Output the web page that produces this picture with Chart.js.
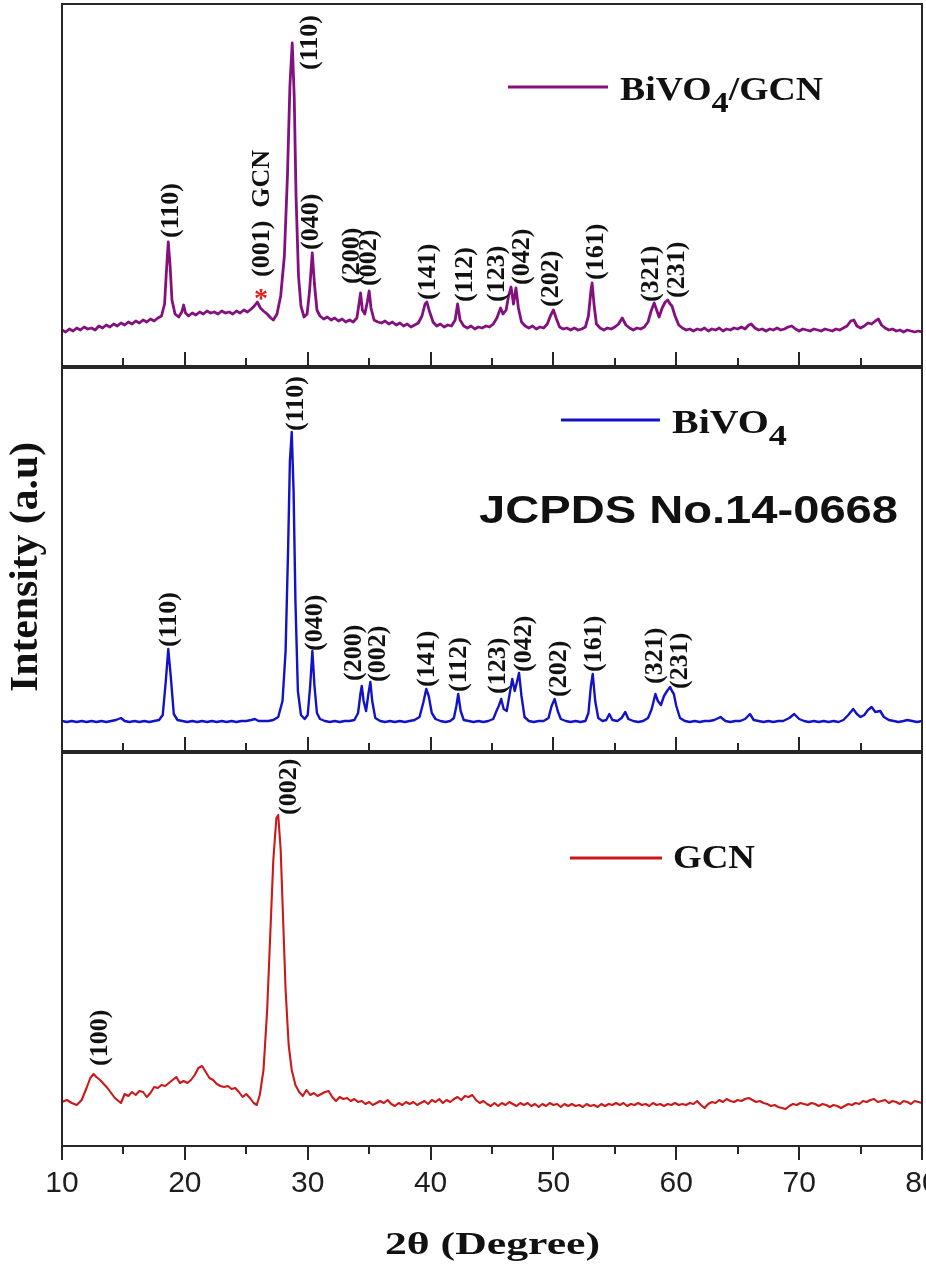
<!DOCTYPE html>
<html>
<head>
<meta charset="utf-8">
<title>XRD patterns - GCN, BiVO4, BiVO4/GCN</title>
<script src="https://cdn.jsdelivr.net/npm/chart.js@4.4.1/dist/chart.umd.min.js"></script>
<style>
  html, body { margin: 0; padding: 0; background: #fff; }
  #wrap { position: relative; width: 926px; height: 1265px; overflow: hidden; background: #fff; }
  #wrap canvas { position: absolute; left: 0; top: 0; }
</style>
</head>
<body>
<div id="wrap">
  <canvas id="compositeChart" width="926" height="1265"></canvas>
  <canvas id="bivo4Chart" width="926" height="1265"></canvas>
  <canvas id="gcnChart" width="926" height="1265"></canvas>
</div>
<script>
// ---- data (2theta in degrees, intensity in a.u.) ----

const xMajorTicks = [10, 20, 30, 40, 50, 60, 70, 80];
const xMinorTicks = [15, 25, 35, 45, 55, 65, 75];

// BiVO4/GCN pattern
const compositePattern = [
  [10.0,36],[10.3,34],[10.6,37],[10.9,35],[11.2,38],[11.5,36],[11.8,39],[12.1,37],[12.4,38],[12.7,36],
  [13.0,40],[13.3,38],[13.6,41],[13.9,39],[14.2,42],[14.5,40],[14.8,43],[15.1,41],[15.4,44],[15.7,42],
  [16.0,45],[16.3,43],[16.6,46],[16.9,44],[17.2,47],[17.5,45],[17.8,48],[18.1,50],[18.35,62],[18.5,95],
  [18.65,124],[18.8,100],[18.95,66],[19.2,52],[19.5,49],[19.75,54],[19.9,61],[20.05,53],[20.3,50],[20.6,53],
  [20.9,51],[21.2,54],[21.5,52],[21.8,55],[22.1,53],[22.4,54],[22.7,52],[23.0,55],[23.3,53],[23.6,54],
  [23.9,52],[24.2,55],[24.5,53],[24.8,56],[25.1,54],[25.4,57],[25.65,60],[25.9,64],[26.15,58],[26.4,55],
  [26.7,52],[27.0,48],[27.2,46],[27.5,52],[27.8,70],[28.1,110],[28.35,190],[28.55,280],[28.74,323],[28.9,270],
  [29.05,170],[29.25,90],[29.45,60],[29.7,49],[29.95,52],[30.15,75],[30.37,113],[30.55,82],[30.75,56],[31.0,50],
  [31.3,47],[31.6,49],[31.9,46],[32.2,48],[32.5,45],[32.8,47],[33.1,44],[33.4,46],[33.7,44],[34.0,48],
  [34.15,60],[34.3,73],[34.45,56],[34.65,52],[34.85,64],[35.0,75],[35.15,58],[35.4,46],[35.7,44],[36.0,43],
  [36.3,45],[36.6,42],[36.9,44],[37.2,41],[37.5,43],[37.8,40],[38.1,42],[38.4,39],[38.7,41],[39.0,43],
  [39.3,50],[39.55,62],[39.7,64],[39.9,55],[40.2,44],[40.5,40],[40.8,42],[41.1,39],[41.4,41],[41.7,40],
  [42.0,46],[42.2,62],[42.4,46],[42.7,40],[43.0,38],[43.3,40],[43.6,37],[43.9,39],[44.2,38],[44.5,40],
  [44.8,39],[45.1,42],[45.4,48],[45.7,58],[45.9,52],[46.15,56],[46.35,70],[46.55,79],[46.75,62],[46.95,78],
  [47.15,58],[47.4,44],[47.7,40],[48.0,38],[48.3,40],[48.6,37],[48.9,39],[49.2,38],[49.5,42],[49.75,50],
  [50.0,56],[50.25,47],[50.5,39],[50.8,37],[51.1,38],[51.4,36],[51.7,38],[52.0,36],[52.3,37],[52.6,39],
  [52.85,50],[53.05,75],[53.15,83],[53.3,62],[53.5,42],[53.8,38],[54.1,36],[54.4,38],[54.7,37],[55.0,39],
  [55.3,42],[55.6,48],[55.9,41],[56.2,38],[56.5,36],[56.8,38],[57.1,37],[57.4,39],[57.7,44],[57.95,55],
  [58.2,63],[58.4,56],[58.6,49],[58.85,58],[59.1,64],[59.3,66],[59.5,62],[59.65,60],[59.9,50],[60.2,41],
  [60.5,38],[60.8,36],[61.1,37],[61.4,35],[61.7,37],[62.0,36],[62.3,38],[62.6,35],[62.9,37],[63.2,36],
  [63.5,38],[63.8,35],[64.1,37],[64.4,36],[64.7,38],[65.0,37],[65.3,39],[65.6,37],[65.9,41],[66.1,42],
  [66.4,38],[66.7,36],[67.0,37],[67.3,35],[67.6,37],[67.9,36],[68.2,38],[68.5,36],[68.8,37],[69.1,39],
  [69.4,40],[69.7,37],[70.0,35],[70.3,37],[70.6,36],[70.9,35],[71.2,37],[71.5,36],[71.8,35],[72.1,37],
  [72.4,36],[72.7,35],[73.0,37],[73.3,36],[73.6,38],[73.9,40],[74.2,45],[74.45,46],[74.7,40],[75.0,38],
  [75.3,40],[75.6,43],[75.9,42],[76.2,45],[76.45,47],[76.7,41],[77.0,38],[77.3,36],[77.6,37],[77.9,35],
  [78.2,36],[78.5,34],[78.8,36],[79.1,35],[79.4,34],[79.7,35],[80.0,34]
];

// BiVO4 pattern
const bivo4Pattern = [
  [10.0,30],[10.4,29],[10.8,30],[11.2,29],[11.6,30],[12.0,29],[12.4,30],[12.8,29],[13.2,30],[13.6,29],
  [14.0,30],[14.4,31],[14.8,33],[15.1,30],[15.5,29],[15.9,30],[16.3,29],[16.7,30],[17.1,29],[17.5,30],
  [17.9,31],[18.2,36],[18.45,70],[18.65,102],[18.85,75],[19.1,37],[19.4,31],[19.8,30],[20.2,29],[20.6,30],
  [21.0,29],[21.4,30],[21.8,29],[22.2,30],[22.6,29],[23.0,30],[23.4,29],[23.8,30],[24.2,29],[24.6,30],
  [25.0,30],[25.4,31],[25.7,32],[26.0,30],[26.4,30],[26.8,30],[27.2,31],[27.6,34],[27.95,50],[28.2,100],
  [28.4,200],[28.55,290],[28.7,319],[28.85,260],[29.0,150],[29.2,60],[29.45,36],[29.75,32],[30.0,36],[30.2,65],
  [30.38,100],[30.55,65],[30.75,38],[31.0,32],[31.4,30],[31.8,29],[32.2,30],[32.6,29],[33.0,30],[33.4,30],
  [33.8,31],[34.1,38],[34.3,58],[34.4,65],[34.55,50],[34.75,40],[34.95,58],[35.1,69],[35.25,50],[35.5,33],
  [35.9,30],[36.3,29],[36.7,30],[37.1,29],[37.5,30],[37.9,29],[38.3,30],[38.7,31],[39.1,34],[39.4,48],
  [39.65,62],[39.85,55],[40.1,38],[40.4,32],[40.8,30],[41.2,29],[41.6,30],[41.9,33],[42.1,45],[42.25,57],
  [42.45,40],[42.7,31],[43.1,30],[43.5,29],[43.9,30],[44.3,29],[44.7,30],[45.1,32],[45.4,41],[45.55,45],
  [45.75,52],[45.95,42],[46.2,40],[46.45,58],[46.65,72],[46.85,60],[47.05,70],[47.2,78],[47.4,55],[47.65,34],
  [48.0,30],[48.4,29],[48.8,30],[49.2,30],[49.6,33],[49.85,45],[50.1,52],[50.35,40],[50.6,32],[51.0,30],
  [51.4,29],[51.8,30],[52.2,29],[52.6,30],[52.85,38],[53.05,65],[53.2,77],[53.4,50],[53.65,33],[54.0,30],
  [54.3,31],[54.55,37],[54.8,31],[55.2,30],[55.55,33],[55.85,39],[56.1,32],[56.5,30],[56.9,29],[57.3,30],
  [57.7,33],[58.0,42],[58.3,57],[58.5,50],[58.75,46],[59.0,55],[59.25,60],[59.5,64],[59.65,60],[59.8,57],
  [60.0,45],[60.3,33],[60.7,30],[61.1,29],[61.5,30],[61.9,29],[62.3,30],[62.7,30],[63.1,31],[63.6,34],
  [64.0,30],[64.4,29],[64.8,30],[65.2,30],[65.6,32],[66.0,37],[66.3,31],[66.7,30],[67.1,29],[67.5,30],
  [67.9,29],[68.3,30],[68.7,30],[69.2,33],[69.6,37],[70.0,32],[70.4,30],[70.8,29],[71.2,30],[71.6,29],
  [72.0,30],[72.4,29],[72.8,30],[73.2,29],[73.6,31],[74.0,36],[74.4,42],[74.7,37],[75.0,34],[75.3,36],
  [75.6,41],[75.9,44],[76.2,39],[76.6,40],[76.9,34],[77.3,31],[77.7,30],[78.1,29],[78.5,30],[78.8,31],
  [79.2,30],[79.6,29],[80.0,30]
];

// GCN pattern
const gcnPattern = [
  [10.0,44],[10.4,46],[10.8,43],[11.2,41],[11.6,46],[12.0,58],[12.3,68],[12.57,72],[12.8,69],[13.1,66],
  [13.4,62],[13.7,58],[14.0,53],[14.3,48],[14.8,43],[15.1,52],[15.4,50],[15.7,54],[16.0,51],[16.3,55],
  [16.6,54],[16.9,49],[17.2,53],[17.5,59],[17.8,58],[18.1,61],[18.4,60],[18.7,63],[19.0,66],[19.3,69],
  [19.6,63],[19.9,65],[20.2,63],[20.5,66],[20.8,71],[21.1,78],[21.4,80],[21.7,74],[22.0,68],[22.3,66],
  [22.6,62],[22.9,60],[23.2,59],[23.5,60],[23.8,57],[24.1,58],[24.4,54],[24.7,49],[25.0,52],[25.3,48],
  [25.6,43],[25.85,41],[26.1,51],[26.4,76],[26.7,136],[26.95,211],[27.2,286],[27.45,328],[27.6,331],[27.8,296],
  [28.0,226],[28.2,156],[28.45,101],[28.7,76],[29.0,61],[29.3,54],[29.6,50],[29.9,56],[30.2,51],[30.5,53],
  [30.8,50],[31.1,52],[31.4,54],[31.7,55],[32.0,49],[32.3,45],[32.6,49],[32.9,47],[33.2,48],[33.5,45],
  [33.8,47],[34.1,44],[34.4,45],[34.7,42],[35.0,44],[35.3,41],[35.6,43],[35.9,45],[36.2,43],[36.5,46],
  [36.8,42],[37.1,40],[37.4,43],[37.7,41],[38.0,44],[38.3,42],[38.6,44],[38.9,41],[39.2,43],[39.5,45],
  [39.8,42],[40.1,46],[40.4,44],[40.7,47],[41.0,43],[41.3,46],[41.6,44],[41.9,47],[42.2,49],[42.5,46],
  [42.8,50],[43.1,49],[43.4,51],[43.7,46],[44.0,43],[44.3,45],[44.6,42],[44.9,40],[45.2,43],[45.5,40],
  [45.8,43],[46.1,41],[46.4,44],[46.7,42],[47.0,40],[47.3,43],[47.6,41],[47.9,43],[48.2,40],[48.5,42],
  [48.8,39],[49.1,42],[49.4,40],[49.7,43],[50.0,41],[50.3,42],[50.6,39],[50.9,42],[51.2,40],[51.5,42],
  [51.8,40],[52.1,41],[52.4,39],[52.7,42],[53.0,40],[53.3,41],[53.6,39],[53.9,42],[54.2,40],[54.5,42],
  [54.8,41],[55.1,43],[55.4,41],[55.7,43],[56.0,40],[56.3,42],[56.6,41],[56.9,43],[57.2,41],[57.5,42],
  [57.8,40],[58.1,43],[58.4,41],[58.7,42],[59.0,40],[59.3,42],[59.6,41],[59.9,43],[60.2,41],[60.5,42],
  [60.8,41],[61.1,43],[61.4,42],[61.7,45],[62.0,41],[62.3,38],[62.6,42],[62.9,44],[63.2,43],[63.5,46],
  [63.8,44],[64.1,47],[64.4,45],[64.7,44],[65.0,46],[65.3,45],[65.6,47],[65.9,48],[66.2,46],[66.5,44],
  [66.8,45],[67.1,43],[67.4,42],[67.7,40],[68.0,41],[68.3,39],[68.6,38],[68.9,37],[69.2,40],[69.5,42],
  [69.8,41],[70.1,43],[70.4,42],[70.7,41],[71.0,43],[71.3,42],[71.6,40],[71.9,42],[72.2,41],[72.5,39],
  [72.8,41],[73.1,40],[73.4,38],[73.7,40],[74.0,42],[74.3,41],[74.6,43],[74.9,42],[75.2,45],[75.5,44],
  [75.8,46],[76.1,47],[76.4,44],[76.7,45],[77.0,46],[77.3,43],[77.6,45],[77.9,44],[78.2,42],[78.5,45],
  [78.8,44],[79.1,42],[79.4,45],[79.7,44],[80.0,43]
];

// Miller index labels: text, 2theta of the label centre, intensity at the label foot
const compositePeakLabels  = ['(110)', '(001)  GCN', '(110)', '(040)', '(200)', '(002)', '(141)', '(112)', '(123)', '(042)', '(202)', '(161)', '(321)', '(231)'];
const compositePeakAngles  = [18.9, 26.3, 30.2, 30.25, 33.6, 35.05, 39.8, 42.85, 45.4, 47.5, 49.8, 53.45, 57.95, 60.1];
const compositePeakHeights = [128, 89, 296, 116, 82, 80, 66, 64, 64, 81, 59, 86, 64, 68];

const bivo4PeakLabels  = ['(110)', '(110)', '(040)', '(200)', '(002)', '(141)', '(112)', '(123)', '(042)', '(202)', '(161)', '(321)', '(231)'];
const bivo4PeakAngles  = [18.75, 29.1, 30.65, 33.75, 35.75, 39.7, 42.3, 45.5, 47.6, 50.5, 53.3, 58.3, 60.35];
const bivo4PeakHeights = [104, 320, 100, 70, 69, 64, 59, 57, 79, 54, 79, 67, 62];

const gcnPeakLabels  = ['(100)', '(002)'];
const gcnPeakAngles  = [13.1, 28.5];
const gcnPeakHeights = [80, 331];

// GCN (001) marker in the composite pattern
const gcnMarkAngle = 26.2;
const gcnMarkHeight = 73;

// ---- page layout ----
const W = 926, H = 1265;
const FRAME_LEFT = 62, FRAME_RIGHT = 922;
const FRAME_COLOR = '#262626';
const TEXT_COLOR = '#111';
const SERIF = '"Liberation Serif", "Times New Roman", serif';
const SANS = '"Liberation Sans", Arial, sans-serif';

/**
 * Draw a run of bold serif text with optional subscripts,
 * squeezed or stretched to a target width.
 */
function drawRichText(ctx, parts, left, baseline, size, targetWidth) {
    const fontFor = p => `bold ${p.sub ? Math.round(size * 0.9) : size}px ${SERIF}`;
    let natural = 0;
    parts.forEach(p => {
        ctx.font = fontFor(p);
        natural += ctx.measureText(p.text).width;
    });
    const sx = targetWidth ? targetWidth / natural : 1;
    ctx.save();
    ctx.translate(left, baseline);
    ctx.scale(sx, 1);
    ctx.textAlign = 'left';
    ctx.textBaseline = 'alphabetic';
    ctx.fillStyle = TEXT_COLOR;
    let cursor = 0;
    parts.forEach(p => {
        ctx.font = fontFor(p);
        ctx.fillText(p.text, cursor, p.sub ? size * 0.36 : 0);
        cursor += ctx.measureText(p.text).width;
    });
    ctx.restore();
}

/**
 * Plain text fitted to a width, optionally rotated
 */
function drawFittedText(ctx, text, x, y, font, targetWidth, angle, align) {
    ctx.save();
    ctx.font = font;
    ctx.translate(x, y);
    if (angle) ctx.rotate(angle);
    ctx.scale(targetWidth / ctx.measureText(text).width, 1);
    ctx.textAlign = align || 'left';
    ctx.textBaseline = 'alphabetic';
    ctx.fillStyle = TEXT_COLOR;
    ctx.fillText(text, 0, 0);
    ctx.restore();
}

/**
 * Per-panel decorations: frame, ticks, hkl labels, legend entry, extra text
 */
function panelDecor(cfg) {
    return {
        id: 'panelDecor',
        afterDatasetsDraw(chart) {
            const { ctx, chartArea: a, scales: { x, y } } = chart;
            ctx.save();

            // frame
            ctx.strokeStyle = FRAME_COLOR;
            ctx.lineWidth = 2;
            ctx.strokeRect(a.left, a.top, a.right - a.left, a.bottom - a.top);

            // ticks on the bottom edge (inward for the upper panels, outward for the last one)
            const drawTick = (v, len) => {
                const px = Math.round(x.getPixelForValue(v));
                ctx.beginPath();
                ctx.moveTo(px, a.bottom);
                ctx.lineTo(px, a.bottom + cfg.tickDir * len);
                ctx.stroke();
            };
            xMajorTicks.forEach(v => drawTick(v, 14));
            xMinorTicks.forEach(v => drawTick(v, 8));

            // Miller indices, rotated, standing on their peaks
            ctx.fillStyle = TEXT_COLOR;
            ctx.font = `bold 26px ${SERIF}`;
            ctx.textAlign = 'left';
            ctx.textBaseline = 'middle';
            cfg.peakLabels.forEach((label, i) => {
                ctx.save();
                ctx.translate(x.getPixelForValue(cfg.peakAngles[i]), y.getPixelForValue(cfg.peakHeights[i]));
                ctx.rotate(-Math.PI / 2);
                ctx.fillText(label, 0, 0);
                ctx.restore();
            });

            // legend entry
            const lg = cfg.legend;
            ctx.strokeStyle = cfg.color;
            ctx.lineWidth = 3;
            ctx.beginPath();
            ctx.moveTo(lg.x1, lg.lineY);
            ctx.lineTo(lg.x2, lg.lineY);
            ctx.stroke();
            drawRichText(ctx, lg.parts, lg.textLeft, lg.baseline, 33, lg.width);

            if (cfg.extra) cfg.extra(chart);
            ctx.restore();
        }
    };
}

function makePanel(canvasId, cfg) {
    const showAxis = !!cfg.showAxis;
    return new Chart(document.getElementById(canvasId), {
        type: 'line',
        data: {
            datasets: [{
                data: cfg.pattern.map(p => ({ x: p[0], y: p[1] })),
                borderColor: cfg.color,
                borderWidth: cfg.lineWidth,
                borderJoinStyle: 'round',
                pointRadius: 0,
                tension: 0,
                fill: false
            }]
        },
        options: {
            responsive: false,
            animation: false,
            devicePixelRatio: 1,
            events: [],
            layout: {
                padding: {
                    left: FRAME_LEFT,
                    right: W - FRAME_RIGHT,
                    top: cfg.top,
                    bottom: showAxis ? 0 : H - cfg.bottom
                }
            },
            plugins: {
                legend: { display: false },
                tooltip: { enabled: false }
            },
            scales: {
                x: {
                    type: 'linear',
                    min: 10,
                    max: 80,
                    display: showAxis,
                    position: 'bottom',
                    grid: { display: false, drawTicks: false },
                    border: { display: false },
                    ticks: {
                        stepSize: 10,
                        autoSkip: false,
                        maxRotation: 0,
                        padding: 20,
                        color: '#1e1e1e',
                        font: { family: SANS, size: 30 }
                    },
                    afterFit(scale) {
                        // only the bottom panel owns a visible axis box
                        if (!showAxis) return;
                        scale.height = H - cfg.bottom;
                        scale.paddingLeft = 0;
                        scale.paddingRight = 0;
                    }
                },
                y: {
                    type: 'linear',
                    min: 0,
                    max: cfg.bottom - cfg.top,
                    display: false
                }
            }
        },
        plugins: [panelDecor(cfg)]
    });
}

// top: BiVO4/GCN
makePanel('compositeChart', {
    pattern: compositePattern,
    color: '#84107f',
    lineWidth: 2.8,
    top: 4,
    bottom: 366,
    tickDir: -1,
    peakLabels: compositePeakLabels,
    peakAngles: compositePeakAngles,
    peakHeights: compositePeakHeights,
    legend: {
        x1: 508, x2: 608, lineY: 87, textLeft: 620, baseline: 100, width: 203,
        parts: [{ text: 'BiVO' }, { text: '4', sub: true }, { text: '/GCN' }]
    },
    extra(chart) {
        const { ctx, scales: { x, y } } = chart;
        ctx.fillStyle = '#e0201c';
        ctx.font = `bold 28px ${SERIF}`;
        ctx.textAlign = 'center';
        ctx.textBaseline = 'alphabetic';
        ctx.fillText('*', x.getPixelForValue(gcnMarkAngle), y.getPixelForValue(gcnMarkHeight) + 14);
    }
});

// middle: BiVO4
makePanel('bivo4Chart', {
    pattern: bivo4Pattern,
    color: '#1212c8',
    lineWidth: 2.4,
    top: 368,
    bottom: 751,
    tickDir: -1,
    peakLabels: bivo4PeakLabels,
    peakAngles: bivo4PeakAngles,
    peakHeights: bivo4PeakHeights,
    legend: {
        x1: 561, x2: 660, lineY: 420, textLeft: 672, baseline: 433, width: 115,
        parts: [{ text: 'BiVO' }, { text: '4', sub: true }]
    },
    extra(chart) {
        const { ctx } = chart;
        drawFittedText(ctx, 'JCPDS No.14-0668', 479, 523, `bold 38px ${SANS}`, 419);
        drawFittedText(ctx, 'Intensity (a.u)', 37, 567, `bold 40px ${SERIF}`, 250, -Math.PI / 2, 'center');
    }
});

// bottom: GCN, carries the shared 2theta axis
makePanel('gcnChart', {
    pattern: gcnPattern,
    color: '#cc1818',
    lineWidth: 2.1,
    top: 753,
    bottom: 1146,
    tickDir: 1,
    showAxis: true,
    peakLabels: gcnPeakLabels,
    peakAngles: gcnPeakAngles,
    peakHeights: gcnPeakHeights,
    legend: {
        x1: 570, x2: 662, lineY: 858, textLeft: 673, baseline: 868, width: 82,
        parts: [{ text: 'GCN' }]
    },
    extra(chart) {
        drawFittedText(chart.ctx, '2\u03b8 (Degree)', 385, 1254, `bold 32px ${SERIF}`, 215);
    }
});
</script>
</body>
</html>
